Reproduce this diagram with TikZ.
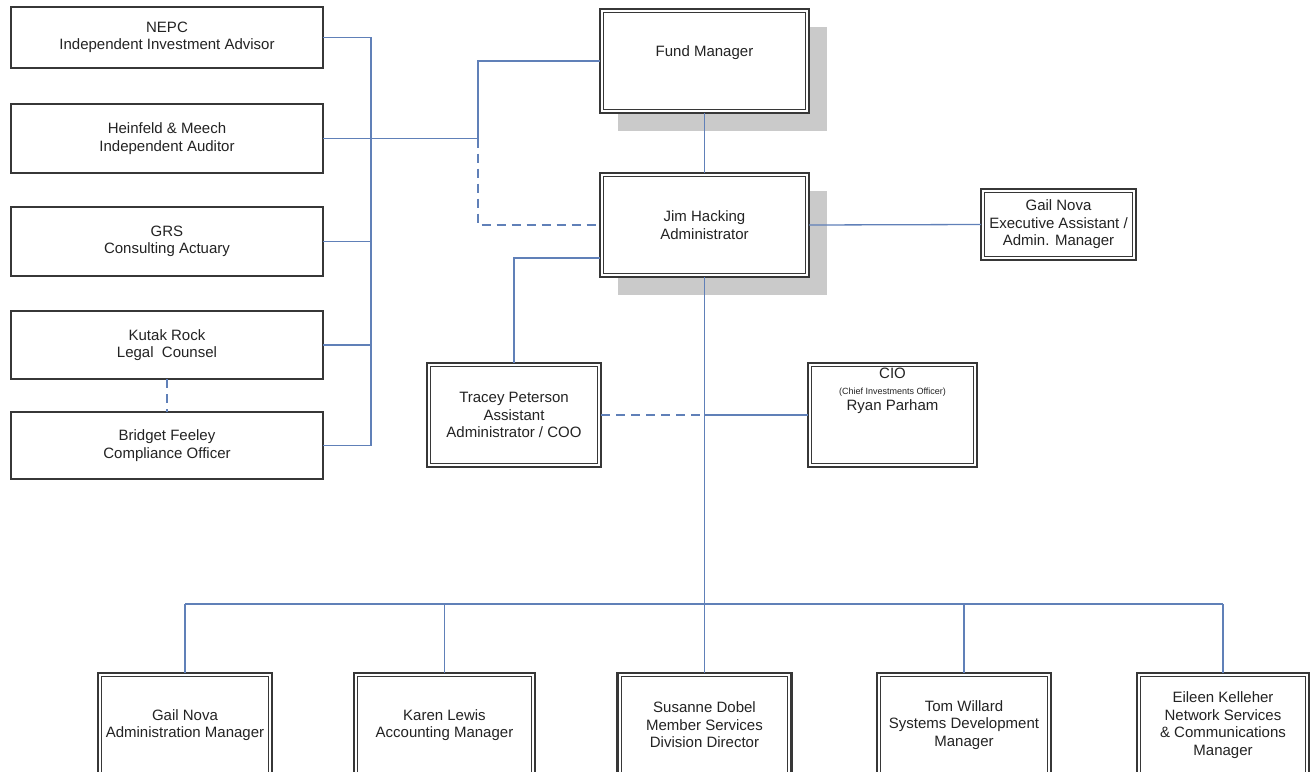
\documentclass[tikz,border=0pt]{standalone}
\usepackage{fontspec}
\setmainfont{Liberation Sans}
\usetikzlibrary{shadows}
\definecolor{linec}{RGB}{96,128,184}
\definecolor{bordc}{RGB}{55,55,55}
\definecolor{shadc}{RGB}{202,202,202}
\definecolor{txtc}{RGB}{35,35,35}
\begin{document}
\begin{tikzpicture}[x=1pt,y=-1pt,
  every node/.style={font=\fontsize{15}{17.5}\selectfont, text=txtc, align=center, inner sep=0pt, outer sep=0pt},
  sbox/.style={draw=bordc, line width=1.6pt, fill=white},
  dbox/.style={draw=bordc, line width=2.4pt, fill=white},
  shad/.style={drop shadow={shadow xshift=17.5pt, shadow yshift=-17.5pt, fill=shadc, opacity=1}},
  conn/.style={draw=linec, line width=1.3pt},
  dconn/.style={conn, dash pattern=on 9pt off 6pt},
  innerb/.style={draw=bordc, line width=1pt}
]
\useasboundingbox (0,0) rectangle (1311,771);
\clip (0,0) rectangle (1311,771);

% left column
\node[sbox, minimum width=312pt, minimum height=61pt] (nepc) at (167,37.5) {NEPC\\Independent Investment Advisor};
\node[sbox, minimum width=312pt, minimum height=69pt] (hein) at (167,138.5) {Heinfeld \& Meech\\Independent Auditor};
\node[sbox, minimum width=312pt, minimum height=69pt] (grs) at (167,241.5) {GRS\\Consulting Actuary};
\node[sbox, minimum width=312pt, minimum height=68pt] (kutak) at (167,345) {Kutak Rock\\Legal\ \ Counsel};
\node[sbox, minimum width=312pt, minimum height=67pt] (bridget) at (167,445.5) {Bridget Feeley\\Compliance Officer};

% centre
\node[dbox, shad, minimum width=209pt, minimum height=104pt] (fm) at (704.5,61) {};
\node (fmt) at (704.5,53) {Fund Manager};
\node[dbox, shad, minimum width=209pt, minimum height=104pt] (jim) at (704.5,225) {Jim Hacking\\Administrator};
\node[dbox, minimum width=155pt, minimum height=71pt] (gailx) at (1058.5,224.5) {Gail Nova\\Executive Assistant /\\Admin. Manager};
\node[dbox, minimum width=174pt, minimum height=104pt] (tracey) at (514,415) {Tracey Peterson\\Assistant\\Administrator / COO};
\node[dbox, minimum width=169pt, minimum height=104pt] (cio) at (892.5,415) {};
\node (ciot) at (892.5,391) {CIO\\[-2pt]{\fontsize{9}{10}\selectfont (Chief Investments Officer)}\\[-1pt]Ryan Parham};

% bottom row
\node[dbox, minimum width=174pt, minimum height=104pt] (b1) at (185,725) {Gail Nova\\Administration Manager};
\node[dbox, minimum width=181pt, minimum height=104pt] (b2) at (444.5,725) {Karen Lewis\\Accounting Manager};
\node[dbox, minimum width=174pt, minimum height=104pt] (b3) at (704.5,725) {Susanne Dobel\\Member Services\\Division Director};
\node[dbox, minimum width=174pt, minimum height=104pt] (b4) at (964,725) {Tom Willard\\Systems Development\\Manager};
\node[dbox, minimum width=172pt, minimum height=104pt] (b5) at (1223,725) {Eileen Kelleher\\Network Services\\\& Communications\\Manager};

\foreach \n in {fm,jim,gailx,tracey,cio,b1,b2,b3,b4,b5}
  \draw[innerb] ([shift={(3.6pt,-3.6pt)}]\n.north west) rectangle ([shift={(-3.6pt,3.6pt)}]\n.south east);

% connectors
\coordinate (trunk) at (371,0);
\coordinate (split) at (478,0);
\coordinate (busy) at (0,604);
\draw[conn] (nepc.east) -- (nepc.east -| trunk) -- (bridget.east -| trunk) -- (bridget.east);
\foreach \n in {hein,grs,kutak}
  \draw[conn] (\n.east) -- (\n.east -| trunk);
\draw[conn] (hein.east -| trunk) -- (hein.east -| split) |- (fm.west);
\draw[dconn] (hein.east -| split) |- (jim.west);
\draw[dconn] (kutak.south) -- (bridget.north);
\draw[conn] (fm.south) -- (jim.north);
\draw[conn] (jim.east) -- (gailx.west);
\draw[conn] ([yshift=-33pt]jim.west) -| (tracey.north);
\draw[dconn] (tracey.east) -- (tracey.east -| jim.south);
\draw[conn] (tracey.east -| jim.south) -- (cio.west);
\draw[conn] (jim.south) -- (jim.south |- busy);
\draw[conn] (b1.north |- busy) -- (b5.north |- busy);
\foreach \n in {b1,b2,b3,b4,b5}
  \draw[conn] (\n.north |- busy) -- (\n.north);
\end{tikzpicture}
\end{document}
